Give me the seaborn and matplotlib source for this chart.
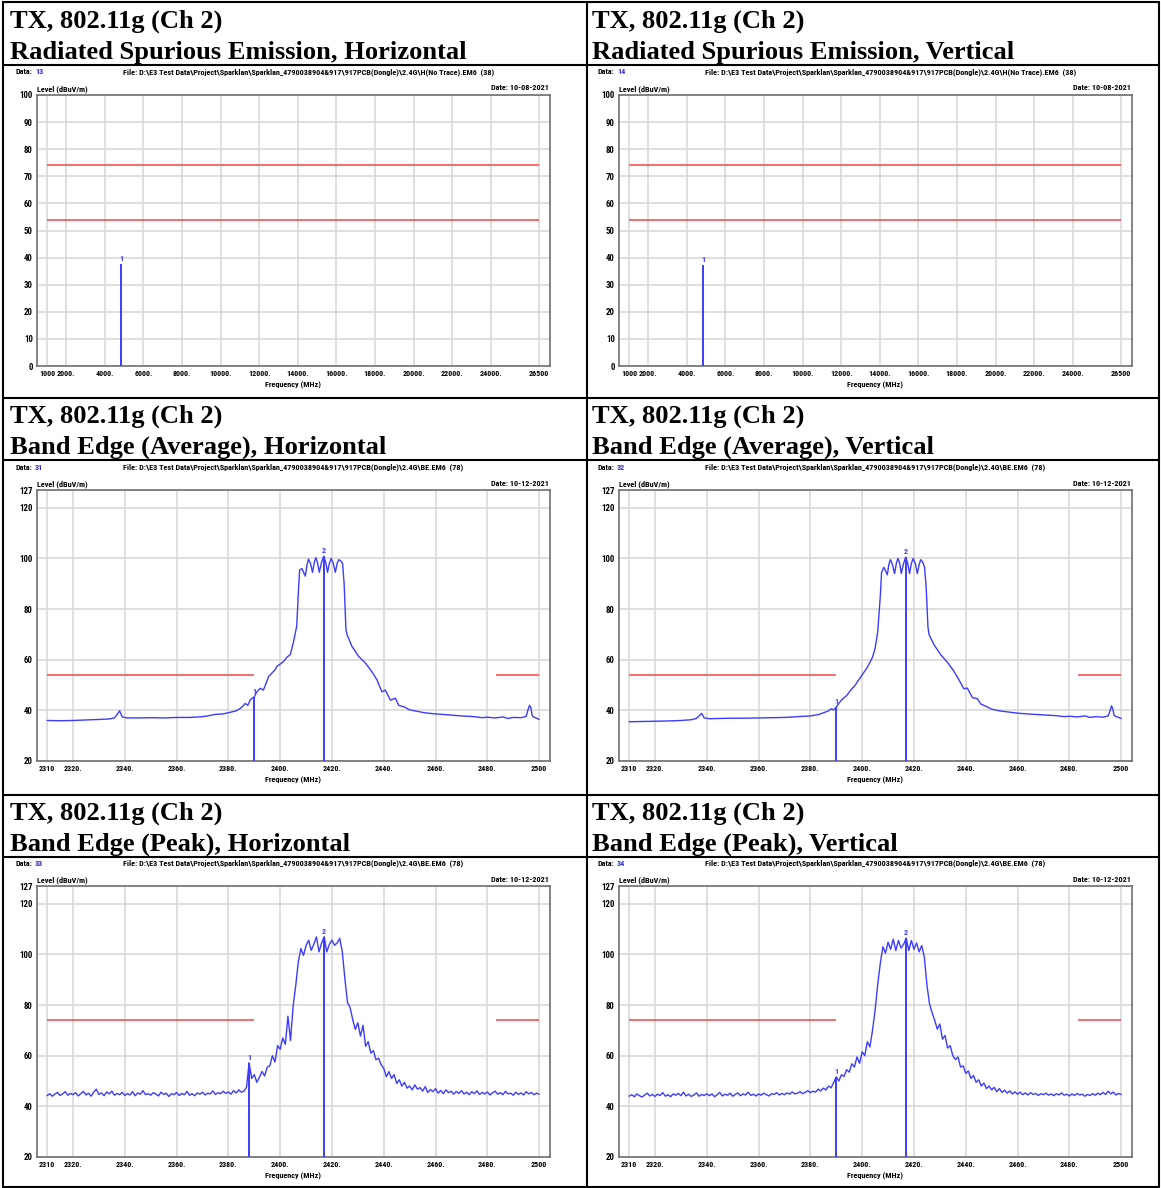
import matplotlib
matplotlib.use("Agg")
import matplotlib.pyplot as plt
from matplotlib import font_manager
from matplotlib.font_manager import FontProperties
from matplotlib.lines import Line2D
import seaborn as sns

W, H = 1161, 1188

# ---------------- data ----------------
header_top = "TX, 802.11g (Ch 2)"
header_sub = ["Radiated Spurious Emission, Horizontal", "Radiated Spurious Emission, Vertical",
              "Band Edge (Average), Horizontal", "Band Edge (Average), Vertical",
              "Band Edge (Peak), Horizontal", "Band Edge (Peak), Vertical"]
data_ids = ["13", "14", "31", "32", "33", "34"]
rse_file = r"File: D:\E3 Test Data\Project\Sparklan\Sparklan_4790038904&917\917PCB(Dongle)\2.4G\H(No Trace).EM6  (38)"
be_file = r"File: D:\E3 Test Data\Project\Sparklan\Sparklan_4790038904&917\917PCB(Dongle)\2.4G\BE.EM6  (78)"
dates = ["10-08-2021", "10-08-2021", "10-12-2021", "10-12-2021", "10-12-2021", "10-12-2021"]

rse_xticks = [1000, 2000, 4000, 6000, 8000, 10000, 12000, 14000, 16000, 18000, 20000, 22000, 24000, 26500]
rse_xlabels = ["1000", "2000.", "4000.", "6000.", "8000.", "10000.", "12000.", "14000.", "16000.",
               "18000.", "20000.", "22000.", "24000.", "26500"]
rse_yticks = [0, 10, 20, 30, 40, 50, 60, 70, 80, 90, 100]
rse_limits = [74, 54]
rse_marker_freq = [4834, 4834]
rse_marker_level = [37.5, 37.2]

be_xticks = [2310, 2320, 2340, 2360, 2380, 2400, 2420, 2440, 2460, 2480, 2500]
be_xlabels = ["2310", "2320.", "2340.", "2360.", "2380.", "2400.", "2420.", "2440.", "2460.", "2480.", "2500"]
be_yticks = [20, 40, 60, 80, 100, 120, 127]
be_avg_limit = 54
be_peak_limit = 74
be_limit_spans = [(2310, 2390), (2483.5, 2500)]

avg_h_freq = [2310, 2315, 2320, 2325, 2330, 2334, 2336, 2337, 2338, 2339, 2341, 2345, 2350, 2355, 2360,
              2365, 2369, 2372, 2375, 2378, 2381, 2383, 2384.5, 2385.5, 2386.5, 2387.5, 2388.5, 2389.2,
              2390, 2391, 2392.3, 2393.5, 2394.5, 2395.5, 2396.8, 2398, 2398.7, 2400.6, 2401.5, 2402.6,
              2403.9, 2405.1, 2406.4, 2407.1, 2407.5, 2408.4, 2409.7, 2410.3, 2410.9, 2411.7, 2412.5,
              2413.2, 2413.8, 2414.5, 2415.1, 2416.0, 2416.8, 2417.6, 2418.3, 2419.0, 2419.7, 2420.5,
              2421.3, 2422.0, 2422.6, 2423.4, 2424.1, 2424.7, 2425.4, 2425.8, 2427.7, 2430.3, 2432.9,
              2435.4, 2437.4, 2439.3, 2440.6, 2442.6, 2444.5, 2445.8, 2448, 2450, 2453, 2456, 2460, 2465,
              2470, 2475, 2478, 2480, 2483, 2486, 2488, 2490, 2493, 2495, 2495.8, 2496.3, 2496.8, 2497.3,
              2498, 2499, 2500]
avg_h_level = [36.0, 35.9, 36.0, 36.2, 36.4, 36.6, 37.0, 38.3, 39.8, 37.4, 37.0, 37.0, 37.1, 37.0, 37.2,
               37.2, 37.4, 37.8, 38.4, 38.6, 39.3, 39.8, 40.7, 41.6, 42.7, 42.0, 44.2, 44.8,
               45.3, 47.3, 48.7, 48.0, 50.5, 53.3, 54.7, 56.0, 57.3, 58.7, 59.5, 61.0,
               62.0, 66.8, 73.3, 88.0, 95.3, 96.0, 93.0, 97.0, 99.7, 98.0, 94.5,
               98.5, 100.3, 98.0, 94.5, 98.5, 100.8, 98.5, 94.5, 98.0, 100.0, 98.0,
               94.5, 98.0, 99.5, 99.0, 98.0, 90.0, 72.0, 70.0, 65.3, 61.3, 58.7,
               55.3, 52.0, 47.3, 48.0, 44.0, 44.8, 42.0, 41.3, 40.2, 39.6, 39.0, 38.6, 38.2,
               37.8, 37.5, 37.1, 37.3, 37.0, 37.4, 36.8, 37.2, 37.1, 37.6, 40.5, 42.0, 41.0, 38.0,
               37.3, 36.9, 36.4]
avg_h_markers = [(2390, 45.3, "1"), (2416.8, 100.8, "2")]

avg_v_freq = [2310, 2315, 2320, 2325, 2330, 2334, 2336, 2337, 2338, 2339, 2341, 2345, 2350, 2355, 2360,
              2365, 2370, 2375, 2380, 2383, 2385, 2387, 2388, 2389, 2390, 2391, 2392, 2393, 2394, 2395,
              2396, 2397, 2398, 2399, 2400, 2401, 2402, 2403, 2404, 2405, 2406, 2407, 2407.5, 2408.4,
              2409.7, 2410.3, 2410.9, 2411.7, 2412.5, 2413.2, 2413.8, 2414.5, 2415.1, 2416.0, 2416.8,
              2417.6, 2418.3, 2419.0, 2419.7, 2420.5, 2421.3, 2422.0, 2422.6, 2423.4, 2424.1, 2424.7,
              2425.4, 2425.8, 2427.7, 2430.3, 2432.9, 2435.4, 2437.4, 2439.3, 2440.6, 2442.6, 2444.5,
              2445.8, 2448, 2450, 2453, 2456, 2460, 2465, 2470, 2475, 2478, 2480, 2483, 2486, 2488, 2490,
              2493, 2495, 2495.8, 2496.3, 2496.8, 2497.3, 2498, 2499, 2500]
avg_v_level = [35.5, 35.6, 35.7, 35.8, 36.0, 36.3, 36.8, 37.8, 38.8, 37.0, 36.7, 36.8, 36.9, 36.9, 37.0,
               37.1, 37.2, 37.5, 37.8, 38.3, 39.0, 39.8, 40.6, 40.2, 41.2, 42.8, 44.0, 45.0, 45.8, 47.2,
               48.5, 49.5, 51.0, 52.5, 54.0, 55.5, 57.0, 59.0, 61.0, 64.5, 71.0, 85.0, 94.5, 96.5,
               93.5, 97.5, 99.5, 97.5, 94.0, 98.0, 100.0, 98.0, 94.0, 98.0, 100.5,
               98.0, 94.0, 98.0, 100.0, 98.0, 94.0, 97.5, 99.5, 98.5, 96.5, 89.0,
               73.0, 70.0, 66.0, 62.0, 59.0, 55.5, 52.0, 48.5, 48.8, 45.0, 44.6,
               42.5, 41.5, 40.5, 39.8, 39.4, 38.9, 38.5, 38.2, 37.9, 37.5, 37.7, 37.4, 37.8, 37.2, 37.5,
               37.3, 37.8, 40.0, 41.8, 40.5, 38.0, 37.6, 37.2, 36.8]
avg_v_markers = [(2390, 41.2, "1"), (2416.8, 100.5, "2")]

peak_freq = list(range(2310, 2501))
peak_h_level = [44.2, 45.0, 44.0, 44.8, 45.5, 44.3, 44.9, 45.8, 44.4, 45.1,
                44.6, 45.4, 44.1, 45.0, 45.9, 44.5, 45.2, 44.0, 45.6, 46.8,
                44.7, 45.3, 44.2, 45.7, 44.9, 46.0, 44.4, 45.1, 44.6, 45.5,
                44.3, 45.0, 44.5, 45.8, 44.2, 45.3, 44.8, 46.2, 44.6, 45.0,
                44.4, 45.4, 44.9, 44.1, 45.6, 44.7, 45.2, 43.9, 45.0, 44.6,
                45.5, 44.3, 45.1, 44.6, 45.9, 44.4, 45.0, 44.2, 45.3, 44.8,
                45.6, 44.5, 45.2, 44.9, 46.1, 44.7, 45.4, 45.0, 46.0, 45.1,
                45.7, 44.8, 46.2, 45.3, 46.5, 45.6, 46.0, 47.5, 57.2, 51.0,
                52.5, 49.5, 51.5, 53.8, 52.0, 55.5, 56.0, 60.0, 57.5, 64.0,
                62.5, 67.0, 64.5, 75.6, 66.0, 79.6, 87.6, 97.0, 102.3, 99.6,
                103.5, 105.6, 101.6, 104.0, 106.9, 101.0, 104.5, 107.0, 101.0, 104.0,
                105.6, 103.6, 104.5, 106.3, 101.0, 90.3, 81.0, 79.0, 74.4, 70.4,
                73.0, 67.7, 72.0, 63.7, 65.5, 61.0, 62.0, 58.4, 59.0, 56.4,
                55.0, 51.7, 53.7, 51.0, 52.5, 49.0, 50.5, 48.0, 49.5, 47.2,
                48.0, 46.5, 48.5, 46.8, 47.4, 46.0, 47.8, 45.5, 46.6, 45.8,
                47.0, 45.2, 46.3, 45.0, 46.5, 45.4, 46.0, 44.8, 45.9, 45.1,
                46.2, 44.9, 45.6, 44.6, 45.8, 45.0, 46.1, 44.7, 45.5, 44.9,
                45.7, 44.5, 45.3, 46.0, 44.8, 45.4, 44.6, 45.9, 44.9, 45.2,
                44.4, 45.6, 44.7, 45.3, 44.5, 45.8, 44.9, 45.5, 44.6, 45.2,
                44.8]
peak_h_markers = [(2388, 57.2, "1"), (2417, 107.0, "2")]

peak_v_level = [44.0, 44.6, 43.8, 44.9, 44.2, 43.7, 44.5, 45.2, 44.1, 44.7,
                43.9, 44.8, 44.3, 45.4, 44.0, 44.6, 43.8, 44.9, 44.4, 45.1,
                44.2, 45.6, 44.1, 44.8, 43.9, 44.5, 45.3, 44.0, 44.7, 44.3,
                45.0, 44.2, 44.9, 43.8, 44.6, 45.5, 44.1, 44.8, 44.4, 45.2,
                44.0, 44.7, 45.3, 44.2, 44.9, 44.5, 45.6, 44.3, 44.8, 44.1,
                44.9, 44.4, 45.2, 44.6, 44.1, 45.0, 44.7, 45.4, 44.5, 45.1,
                44.6, 45.3, 44.8, 45.7, 44.9, 45.2, 45.8, 45.0, 45.5, 46.2,
                45.4, 46.0, 45.6, 46.8, 46.1, 47.2, 46.5, 48.0, 47.3, 49.5,
                51.6, 50.0, 52.5, 51.8, 54.5, 53.5, 56.8, 55.5, 59.5, 57.0,
                61.5, 60.0, 65.5, 63.5, 70.0, 78.0, 88.0, 96.5, 103.0, 100.5,
                104.8, 102.0, 106.0, 101.5, 105.5, 102.5, 104.0, 106.5, 101.5, 105.5,
                102.0, 104.5, 101.0, 103.5, 99.0, 88.0, 80.5, 77.0, 74.0, 70.5,
                72.5, 66.5, 68.0, 63.0, 64.0, 60.0, 58.5, 59.5, 55.5, 56.0,
                53.0, 54.0, 51.0, 52.2, 49.5, 50.5, 48.0, 49.2, 47.0, 48.0,
                46.5, 47.5, 45.8, 47.0, 45.5, 46.4, 45.2, 46.1, 44.9, 45.7,
                44.8, 45.6, 44.6, 45.3, 44.5, 45.4, 44.7, 45.1, 44.3, 45.0,
                44.6, 45.2, 44.4, 44.9, 44.2, 45.0, 44.5, 45.3, 44.4, 44.8,
                44.1, 44.9, 44.3, 45.1, 44.5, 44.8, 44.0, 44.7, 44.3, 45.0,
                44.4, 45.2, 44.6, 45.5, 44.7, 46.0, 44.9, 45.6, 44.5, 45.1,
                44.7]
peak_v_markers = [(2390, 51.6, "1"), (2417, 106.5, "2")]

# ---------------- styling ----------------
sns.set_style("white")

# a narrow sans for the analyser screenshot text, if one is installed
SMALL = dict(family="Liberation Sans")
for cand in ["Liberation Sans Narrow", "Roboto Condensed", "Open Sans Condensed", "Noto Sans Condensed"]:
    if cand in {f.name for f in font_manager.fontManager.ttflist}:
        SMALL = dict(family=cand)
        break
else:
    for f in font_manager.fontManager.ttflist:
        if str(f.stretch) in ("condensed", "semi-condensed") and "Mono" not in f.name \
                and f.style == "normal" and f.weight in (400, "normal", "regular"):
            SMALL = dict(family=f.name, stretch=f.stretch)
            break
SERIF = dict(family="Liberation Serif", weight="bold")

BLUE = "#3c3cff"
RED = "#f04848"
GRID = "#d6d6d6"
FRAME = "#707070"
INK = "black"

fig = plt.figure(figsize=(W / 100, H / 100), dpi=100)
renderer = fig.canvas.get_renderer()


def fx(x):
    return x / W


def fy(y):
    return 1 - y / H


def fit_size(s, target_px, props, base=10.0):
    t = fig.text(0, 0, s, fontsize=base, **props)
    w = t.get_window_extent(renderer).width
    t.remove()
    return base * target_px / w


head_fs = fit_size(header_sub[0], 457, SERIF)
small_fs = min(6.5, fit_size(rse_file, 370, dict(SMALL, weight="bold")))
small_fp = FontProperties(size=small_fs, weight="bold", **SMALL)
ytick_fp = FontProperties(size=6.4, weight="bold", **SMALL)
xtick_fp = FontProperties(size=5.8, weight="bold", **SMALL)


def table_line(x0, y0, x1, y1):
    fig.add_artist(Line2D([fx(x0), fx(x1)], [fy(y0), fy(y1)], color="black", lw=1.5))


# table grid
for y in [2, 65, 398, 460, 795, 857, 1187]:
    table_line(3, y, 1159, y)
for x in [3, 587, 1159]:
    table_line(x, 2, x, 1187)

col_dx = [0, 582]
row_dy = [0, 395, 791]
head_tops = [3, 398, 795]

traces = [None, None, (avg_h_freq, avg_h_level), (avg_v_freq, avg_v_level),
          (peak_freq, peak_h_level), (peak_freq, peak_v_level)]
markers = [[(rse_marker_freq[0], rse_marker_level[0], "1")], [(rse_marker_freq[1], rse_marker_level[1], "1")],
           avg_h_markers, avg_v_markers, peak_h_markers, peak_v_markers]

for i in range(6):
    r, c = divmod(i, 2)
    dx, dy = col_dx[c], row_dy[r]
    hx = 10 if c == 0 else 592
    fig.text(fx(hx), fy(head_tops[r] + 25), header_top, fontsize=head_fs, va="baseline", color=INK, **SERIF)
    fig.text(fx(hx), fy(head_tops[r] + 56), header_sub[i], fontsize=head_fs, va="baseline", color=INK, **SERIF)

    # small header texts of the plot image
    t = fig.text(fx(15 + dx), fy(72 + dy), "Data:", fontproperties=small_fp, va="center", color=INK)
    bb = t.get_window_extent(renderer)
    fig.text((bb.x1 + 3) / W, fy(72 + dy), data_ids[i], fontproperties=small_fp, va="center", color="#2f2fd0")
    fig.text(fx(123 + dx), fy(72 + dy), rse_file if r == 0 else be_file, fontproperties=small_fp,
             va="center", color=INK)
    fig.text(fx(549 + dx), fy(88 + dy), "Date: " + dates[i], fontproperties=small_fp, va="center",
             ha="right", color=INK)
    fig.text(fx(37 + dx), fy(89 + dy), "Level (dBuV/m)", fontproperties=small_fp, va="center", color=INK)
    fig.text(fx(293 + dx), fy(385 + dy), "Frequency (MHz)", fontproperties=small_fp, va="center",
             ha="center", color=INK)

    left, right, top, bottom = 37 + dx, 550 + dx, 95 + dy, 366 + dy
    ax = fig.add_axes([fx(left), fy(bottom), (right - left) / W, (bottom - top) / H])
    ax.set_facecolor("white")

    if r == 0:
        ax.set_xlim(482, 27070)
        ax.set_ylim(0, 100)
        xt, xl, yt = rse_xticks, rse_xlabels, rse_yticks
        for lim in rse_limits:
            ax.hlines(lim, 1000, 26500, colors=RED, lw=1.1, zorder=3)
        ybot = 0
    else:
        ax.set_xlim(2306.1, 2504.2)
        ax.set_ylim(20, 127)
        xt, xl, yt = be_xticks, be_xlabels, be_yticks
        lim = be_avg_limit if r == 1 else be_peak_limit
        for x0, x1 in be_limit_spans:
            ax.hlines(lim, x0, x1, colors=RED, lw=1.1, zorder=3)
        fr, lv = traces[i]
        sns.lineplot(x=fr, y=lv, ax=ax, color=BLUE, lw=1.0, estimator=None, sort=False,
                     legend=False, zorder=4)
        ybot = 20

    for f, lvl, lab in markers[i]:
        ax.vlines(f, ybot, lvl, colors=BLUE, lw=1.4, zorder=5)
        ax.annotate(lab, (f, lvl), xytext=(0, 1.5), textcoords="offset points", ha="center",
                    va="bottom", color=BLUE, fontproperties=small_fp, zorder=6)

    ax.set_xticks(xt)
    ax.set_xticklabels(xl, fontproperties=xtick_fp, color=INK)
    ax.set_yticks(yt)
    ax.set_yticklabels([str(v) for v in yt], fontproperties=ytick_fp, color=INK)
    ax.tick_params(length=2, width=0.8, color=FRAME, pad=1.0)
    ax.grid(True, color=GRID, lw=1.1)
    ax.set_axisbelow(True)
    ax.set_xlabel("")
    ax.set_ylabel("")
    for sp in ax.spines.values():
        sp.set_color(FRAME)
        sp.set_linewidth(1.2)

fig.savefig("out.png", dpi=100, facecolor="white")
